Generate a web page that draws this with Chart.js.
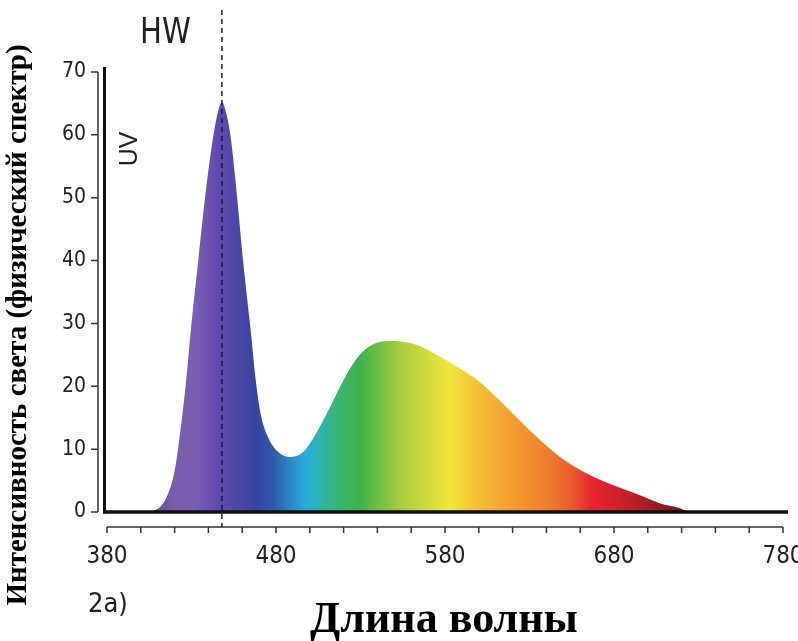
<!DOCTYPE html>
<html>
<head>
<meta charset="utf-8">
<script src="https://cdn.jsdelivr.net/npm/chart.js@4.4.1/dist/chart.umd.min.js"></script>
<style>
  html, body { margin: 0; padding: 0; background: #fff; overflow: hidden; }
  #wrap { width: 820px; height: 641px; }
</style>
</head>
<body>
<div id="wrap"><canvas id="spectrum" width="820" height="641"></canvas></div>
<script>
// spectrum (nm, relative intensity)
const wavelengths = [405, 410, 415, 420, 422, 426.5, 430, 434, 438, 443, 446, 448, 450, 453, 457, 460.5, 465, 468, 471, 476,
  482, 488, 496, 504, 512, 520, 528, 537, 549, 563, 575, 587, 600, 612, 624, 636, 648, 660, 672, 684, 695, 707, 719, 724];
const intensity = [0, 0.5, 2.2, 6.5, 10, 20, 30, 40, 50, 60, 64, 65.2, 64, 60, 50, 40, 29, 21, 15.5, 11.5,
  9.4, 8.75, 9.5, 12.6, 16.7, 21, 24.5, 26.6, 27.2, 26.6, 25, 23.1, 20.8, 17.8, 14.6, 11.5, 8.75, 6.7, 5.1, 3.8, 2.7, 1.4, 0.6, 0];

const xMin = 380, xMax = 780, xMajorStep = 100, xMinorStep = 20;
const yMin = 0, yMax = 70, yStep = 10;
const markerWavelength = 448;   // dashed HW line

// colour of the fill along the wavelength axis
const gradientNm = [405, 418, 432, 446, 458, 468, 478, 488, 498, 508, 518, 530, 553, 583, 602, 618, 642, 655, 667, 687, 705, 722];
const gradientColors = ['#54457a', '#785cab', '#7b5eb4', '#6049ad', '#4c47a6', '#3643a0', '#2d58aa', '#2a86c6', '#27aedb',
  '#2db5a6', '#3bb46a', '#3db44a', '#a6cc40', '#f2e63a', '#f6b933', '#f5a030', '#ef7a2e', '#eb5a2d', '#e6262c', '#c81e2a',
  '#9a1c1f', '#6e1a1a'];

const tickFont = '"DejaVu Sans Condensed", "Liberation Sans", sans-serif';

function spectrumFill(context) {
  const chart = context.chart;
  const area = chart.chartArea;
  if (!area) return '#6049ad';
  const x = chart.scales.x;
  const g = chart.ctx.createLinearGradient(area.left, 0, area.right, 0);
  gradientNm.forEach((nm, i) => {
    const pos = (x.getPixelForValue(nm) - area.left) / (area.right - area.left);
    g.addColorStop(Math.min(1, Math.max(0, pos)), gradientColors[i]);
  });
  return g;
}

const decorations = {
  id: 'decorations',
  afterDraw(chart) {
    const { ctx, chartArea: a, scales } = chart;
    const x = scales.x, y = scales.y;
    ctx.save();

    // thick plot frame (left + baseline)
    ctx.strokeStyle = '#111';
    ctx.lineWidth = 3;
    ctx.beginPath();
    ctx.moveTo(a.left - 2.5, a.top - 5);
    ctx.lineTo(a.left - 2.5, a.bottom + 1.5);
    ctx.stroke();
    ctx.lineWidth = 3.5;
    ctx.beginPath();
    ctx.moveTo(a.left - 4, a.bottom);
    ctx.lineTo(a.right + 5, a.bottom);
    ctx.stroke();

    // separate y tick rail
    const railX = a.left - 9;
    ctx.strokeStyle = '#333';
    ctx.lineWidth = 1.5;
    ctx.beginPath();
    ctx.moveTo(railX, y.getPixelForValue(yMax));
    ctx.lineTo(railX, y.getPixelForValue(yMin));
    for (let v = yMin; v <= yMax; v += yStep) {
      const py = y.getPixelForValue(v);
      ctx.moveTo(railX - 7, py);
      ctx.lineTo(railX, py);
    }
    ctx.stroke();

    // separate x tick rail
    const railY = a.bottom + 15;
    ctx.beginPath();
    ctx.moveTo(x.getPixelForValue(xMin), railY);
    ctx.lineTo(x.getPixelForValue(xMax), railY);
    for (let v = xMin; v <= xMax; v += xMinorStep) {
      const px = x.getPixelForValue(v);
      ctx.moveTo(px, railY);
      ctx.lineTo(px, railY + 6);
    }
    ctx.stroke();

    // dashed marker line
    const mx = x.getPixelForValue(markerWavelength);
    ctx.strokeStyle = '#1c1c38';
    ctx.lineWidth = 1.5;
    ctx.setLineDash([5, 4]);
    ctx.beginPath();
    ctx.moveTo(mx, 10);
    ctx.lineTo(mx, railY);
    ctx.stroke();
    ctx.setLineDash([]);

    // texts
    ctx.fillStyle = '#222';
    ctx.textBaseline = 'alphabetic';
    ctx.textAlign = 'left';
    ctx.save();
    ctx.translate(140, 43);
    ctx.scale(0.9, 1);
    ctx.font = '36px ' + tickFont;
    ctx.fillText('HW', 0, 0);
    ctx.restore();
    ctx.font = '27px ' + tickFont;
    ctx.fillText('2a)', 88, 612);

    ctx.save();
    ctx.translate(137, 149);
    ctx.rotate(-Math.PI / 2);
    ctx.textAlign = 'center';
    ctx.font = '25px "Liberation Sans", Arial, sans-serif';
    ctx.fillText('UV', 0, 0);
    ctx.restore();

    ctx.fillStyle = '#000';
    ctx.save();
    ctx.translate(19, 325);
    ctx.rotate(-Math.PI / 2);
    ctx.textAlign = 'center';
    ctx.textBaseline = 'middle';
    ctx.font = 'bold 29px "Liberation Serif", "Times New Roman", serif';
    ctx.fillText('Интенсивность света (физический спектр)', 0, 0);
    ctx.restore();

    ctx.textAlign = 'center';
    ctx.font = 'bold 44px "Liberation Serif", "Times New Roman", serif';
    ctx.fillText('Длина волны', 444, 632);

    ctx.restore();
  }
};

new Chart(document.getElementById('spectrum'), {
  type: 'line',
  data: {
    datasets: [{
      data: wavelengths.map((w, i) => ({ x: w, y: intensity[i] })),
      fill: 'origin',
      backgroundColor: spectrumFill,
      borderWidth: 0,
      pointRadius: 0,
      cubicInterpolationMode: 'monotone'
    }]
  },
  options: {
    responsive: false,
    animation: false,
    layout: { padding: { top: 72, right: 37, left: 0, bottom: 0 } },
    plugins: { legend: { display: false }, tooltip: { enabled: false } },
    scales: {
      x: {
        type: 'linear', min: xMin, max: xMax,
        grid: { display: false, tickLength: 28 }, border: { display: false },
        ticks: { stepSize: xMajorStep, autoSkip: false, maxRotation: 0, padding: 2, color: '#222',
          font: { family: tickFont, size: 24 } },
        afterFit: (s) => { s.height = 129; }
      },
      y: {
        min: yMin, max: yMax,
        grid: { display: false, tickLength: 8 }, border: { display: false },
        ticks: { stepSize: yStep, padding: 13, color: '#222', font: { family: tickFont, size: 21 } },
        afterFit: (s) => { s.width = 107; }
      }
    }
  },
  plugins: [decorations]
});
</script>
</body>
</html>
